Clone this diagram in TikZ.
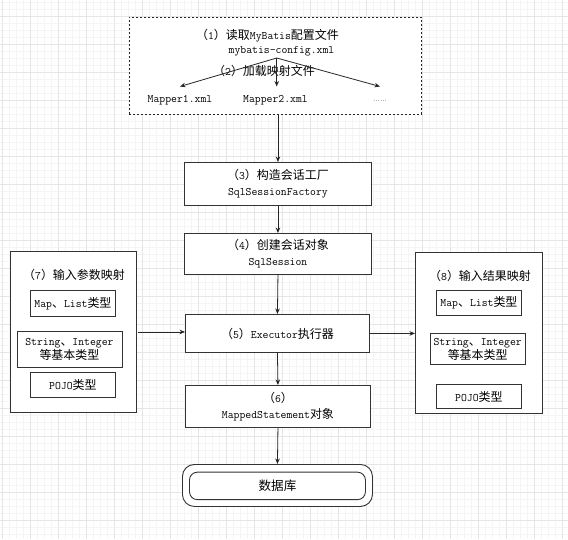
\documentclass[tikz,border=0pt]{standalone}
\usepackage{fontspec}
\newfontfamily\cjk{Noto Sans CJK SC}[Scale=1.05]
\usetikzlibrary{arrows.meta}
\newcommand\zh[1]{{\cjk #1}}
\begin{document}
\begin{tikzpicture}[x=1pt,y=-1pt,
  box/.style={draw=black!80, line width=0.9pt, fill=white, inner sep=0pt, align=center, anchor=north west, font=\ttfamily\fontsize{11.4}{16}\selectfont},
  arr/.style={-{Stealth[length=5.5pt,width=4.5pt]}, draw=black!85, line width=0.8pt},
  txt/.style={inner sep=0pt, align=center, font=\ttfamily\fontsize{11.4}{15}\selectfont},
  minorgrid/.style={draw=black!4, line width=0.5pt},
  majorgrid/.style={draw=black!10, line width=0.6pt}]
\fill[white] (0,0) rectangle (568,539);
\useasboundingbox (0,0) rectangle (568,539);
% grid
\foreach \i in {0,...,80} \draw[minorgrid] (2.7+7*\i,0) -- (2.7+7*\i,539);
\foreach \j in {-2,...,74} \draw[minorgrid] (0,16+7*\j) -- (568,16+7*\j);
\foreach \i in {0,...,20} \draw[majorgrid] (2.7+28*\i,0) -- (2.7+28*\i,539);
\foreach \j in {0,...,18} \draw[majorgrid] (0,16+28*\j) -- (568,16+28*\j);

% top dashed box
\node[box, draw=black!85, dash pattern=on 2pt off 2pt, minimum width=292pt, minimum height=97pt] (cfg) at (129,16.7) {};
\node[txt] (t1) at (267.5,36) {\zh{（}1\zh{）读取}MyBatis\zh{配置文件}};
\node[txt] (t2) at (281.5,51) {mybatis-config.xml};
\node[txt] (t3) at (264,71) {\zh{（}2\zh{）加载映射文件}};
\node[txt] (m1) at (180,100) {Mapper1.xml};
\node[txt] (m2) at (275.5,100) {Mapper2.xml};
\node[txt, font=\fontsize{7}{8}\selectfont] (m3) at (380,101) {......};
\coordinate (src) at (276.7,58);
\coordinate (e1) at (180,86.5);
\coordinate (e2) at (276.7,86.5);
\coordinate (e3) at (380,86.5);
\draw[arr] (src) -- (e1);
\draw[arr] (src) -- (e2);
\draw[arr] (src) -- (e3);

% main chain
\node[box, minimum width=187pt, minimum height=43pt] (b3) at (184,162) {\zh{（}3\zh{）构造会话工厂}\\SqlSessionFactory};
\node[box, minimum width=187pt, minimum height=41pt] (b4) at (184,233) {\zh{（}4\zh{）创建会话对象}\\SqlSession};
\node[box, minimum width=184pt, minimum height=38pt] (b5) at (185,314) {\zh{（}5\zh{）}Executor\zh{执行器}};
\node[box, minimum width=185pt, minimum height=42pt] (b6) at (185,385) {\zh{（}6\zh{）}\\MappedStatement\zh{对象}};
\node[box, rounded corners=12pt, minimum width=190pt, minimum height=42pt] (db) at (182,464) {};
\node[box, rounded corners=8pt, minimum width=176pt, minimum height=27.5pt, font=\fontsize{12}{14}\selectfont] (dbin) at (189,471.7) {\zh{数据库}};

\draw[arr] (cfg.south -| b3.north) -- (b3.north);
\draw[arr] (b3.south) -- (b4.north);
\draw[arr] (b4.south) -- (b5.north);
\draw[arr] (b5.south) -- (b6.north);
\draw[arr] (b6.south) -- (db.north);

% left group
\node[box, minimum width=126pt, minimum height=161pt] (b7) at (9.5,251) {};
\node[txt] (b7t) at (74,275) {\zh{（}7\zh{）输入参数映射}};
\node[box, minimum width=85pt, minimum height=26pt] (b7a) at (30,290) {Map\zh{、}List\zh{类型}};
\node[box, minimum width=105pt, minimum height=36pt, font=\ttfamily\fontsize{11.4}{14}\selectfont] (b7b) at (16.5,331) {String\zh{、}Integer\\\zh{等基本类型}};
\node[box, minimum width=85pt, minimum height=25pt] (b7c) at (30,372) {POJO\zh{类型}};

% right group
\node[box, minimum width=127pt, minimum height=161pt] (b8) at (415,252) {};
\node[txt] (b8t) at (480,275.5) {\zh{（}8\zh{）输入结果映射}};
\node[box, minimum width=85pt, minimum height=25pt] (b8a) at (436,290) {Map\zh{、}List\zh{类型}};
\node[box, minimum width=95.5pt, minimum height=31pt, font=\ttfamily\fontsize{11.4}{14}\selectfont] (b8b) at (429.5,333) {String\zh{、}Integer\\\zh{等基本类型}};
\node[box, minimum width=85pt, minimum height=24pt] (b8c) at (436,384) {POJO\zh{类型}};

\draw[arr] ([xshift=1.5pt]b7.east) -- (b7.east -| b5.west);
\draw[arr] (b5.east) -- (b5.east -| b8.west);
\end{tikzpicture}
\end{document}
